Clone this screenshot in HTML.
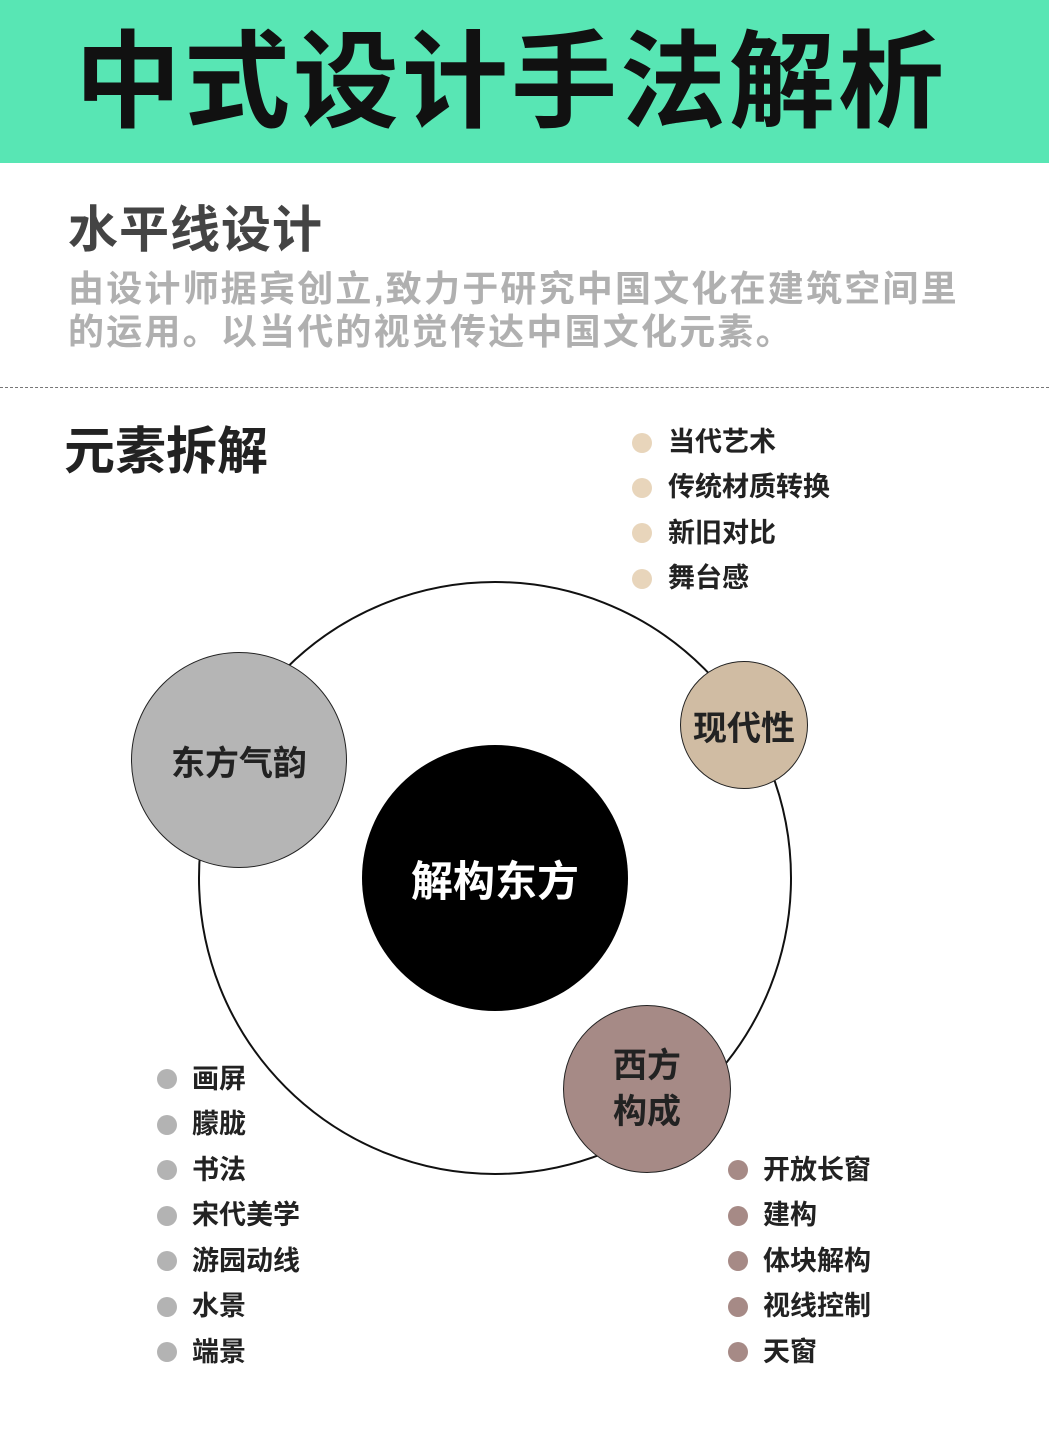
<!DOCTYPE html>
<html><head><meta charset="utf-8"><style>
body{margin:0;width:1049px;height:1452px;background:#fff;position:relative;overflow:hidden;font-family:"Liberation Sans","Noto Sans CJK SC",sans-serif;}
.a{position:absolute;white-space:nowrap;}
.hdr{position:absolute;left:0;top:0;width:1049px;height:163px;background:#58e6b4;}
.t{left:75px;top:-4px;font-size:106px;font-weight:bold;color:#111;letter-spacing:3px;}
.li{font-size:27px;font-weight:bold;color:#222;line-height:1;}
.dot{position:absolute;width:20px;height:20px;border-radius:50%;}
.c{position:absolute;border-radius:50%;display:flex;align-items:center;justify-content:center;text-align:center;font-weight:bold;box-sizing:border-box;}
</style></head><body>
<div class="hdr"></div>
<div class="a t">中式设计手法解析</div>
<div class="a" style="left:68px;top:190px;font-size:50px;font-weight:bold;color:#444;letter-spacing:1px;">水平线设计</div>
<div class="a" style="left:68px;top:267px;font-size:36px;font-weight:bold;color:#b0b0b0;line-height:43px;letter-spacing:2.2px;">由设计师据宾创立,致力于研究中国文化在建筑空间里<br>的运用。以当代的视觉传达中国文化元素。</div>
<div class="a" style="left:0;top:387px;width:1049px;border-top:1px dashed #777;"></div>
<div class="a" style="left:64px;top:410px;font-size:51px;font-weight:bold;color:#222;">元素拆解</div>

<div class="c" style="left:198px;top:581px;width:594px;height:594px;border:2px solid #111;background:#fff;"></div>
<div class="c" style="left:362px;top:745px;width:266px;height:266px;background:#000;color:#fff;font-size:42px;">解构东方</div>
<div class="c" style="left:131px;top:652px;width:216px;height:216px;background:#b5b5b5;border:1.5px solid #222;color:#222;font-size:34px;">东方气韵</div>
<div class="c" style="left:680px;top:661px;width:128px;height:128px;background:#d0bca3;border:1.5px solid #222;color:#222;font-size:34px;">现代性</div>
<div class="c" style="left:563px;top:1005px;width:168px;height:168px;background:#a68a86;border:1.5px solid #222;color:#222;font-size:34px;line-height:46px;">西方<br>构成</div>

<div class="dot" style="left:632px;top:433px;background:#e8d5bb"></div><div class="a li" style="left:668px;top:429px">当代艺术</div>
<div class="dot" style="left:632px;top:478px;background:#e8d5bb"></div><div class="a li" style="left:668px;top:474px">传统材质转换</div>
<div class="dot" style="left:632px;top:523px;background:#e8d5bb"></div><div class="a li" style="left:668px;top:520px">新旧对比</div>
<div class="dot" style="left:632px;top:569px;background:#e8d5bb"></div><div class="a li" style="left:668px;top:565px">舞台感</div>

<div class="dot" style="left:157px;top:1069px;background:#b3b3b3"></div><div class="a li" style="left:192px;top:1066px">画屏</div>
<div class="dot" style="left:157px;top:1115px;background:#b3b3b3"></div><div class="a li" style="left:192px;top:1111px">朦胧</div>
<div class="dot" style="left:157px;top:1160px;background:#b3b3b3"></div><div class="a li" style="left:192px;top:1157px">书法</div>
<div class="dot" style="left:157px;top:1206px;background:#b3b3b3"></div><div class="a li" style="left:192px;top:1202px">宋代美学</div>
<div class="dot" style="left:157px;top:1251px;background:#b3b3b3"></div><div class="a li" style="left:192px;top:1248px">游园动线</div>
<div class="dot" style="left:157px;top:1297px;background:#b3b3b3"></div><div class="a li" style="left:192px;top:1293px">水景</div>
<div class="dot" style="left:157px;top:1342px;background:#b3b3b3"></div><div class="a li" style="left:192px;top:1339px">端景</div>

<div class="dot" style="left:728px;top:1160px;background:#a68a86"></div><div class="a li" style="left:763px;top:1157px">开放长窗</div>
<div class="dot" style="left:728px;top:1206px;background:#a68a86"></div><div class="a li" style="left:763px;top:1202px">建构</div>
<div class="dot" style="left:728px;top:1251px;background:#a68a86"></div><div class="a li" style="left:763px;top:1248px">体块解构</div>
<div class="dot" style="left:728px;top:1297px;background:#a68a86"></div><div class="a li" style="left:763px;top:1293px">视线控制</div>
<div class="dot" style="left:728px;top:1342px;background:#a68a86"></div><div class="a li" style="left:763px;top:1339px">天窗</div>
</body></html>
